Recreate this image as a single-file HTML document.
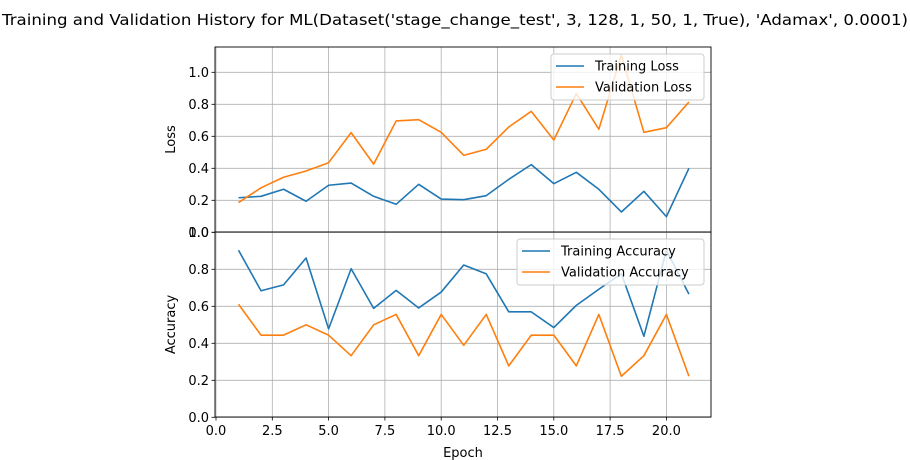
<!DOCTYPE html>
<html><head><meta charset="utf-8"><style>
body{margin:0;background:#fff;}
svg{display:block;font-family:"DejaVu Sans","Liberation Sans",sans-serif;}
</style></head><body>
<svg id="chart" width="910" height="460" viewBox="0 0 910 460" xmlns="http://www.w3.org/2000/svg">
<rect width="910" height="460" fill="#fff"/>
<text x="455" y="25" font-size="15" text-anchor="middle" textLength="906" lengthAdjust="spacingAndGlyphs">Training and Validation History for ML(Dataset('stage_change_test', 3, 128, 1, 50, 1, True), 'Adamax', 0.0001)</text>
<g id="g"></g>
</svg>
<script>
const epochs=[1,2,3,4,5,6,7,8,9,10,11,12,13,14,15,16,17,18,19,20,21];
const trainLoss=[0.216,0.225,0.269,0.194,0.294,0.308,0.225,0.175,0.3,0.208,0.204,0.229,0.331,0.423,0.304,0.375,0.269,0.127,0.256,0.098,0.4];
const valLoss=[0.186,0.278,0.344,0.383,0.435,0.623,0.426,0.696,0.704,0.625,0.481,0.519,0.658,0.756,0.577,0.867,0.644,1.108,0.625,0.654,0.814];
const trainAcc=[0.903,0.684,0.716,0.861,0.478,0.803,0.589,0.686,0.591,0.677,0.823,0.775,0.57,0.57,0.485,0.605,0.692,0.776,0.438,0.903,0.666];
const valAcc=[0.611,0.444,0.444,0.5,0.444,0.333,0.5,0.556,0.333,0.556,0.389,0.556,0.278,0.444,0.444,0.278,0.556,0.222,0.333,0.556,0.222];
const xTicks=[0,2.5,5,7.5,10,12.5,15,17.5,20];
const lossTicks=[0,0.2,0.4,0.6,0.8,1.0];
const accTicks=[0,0.2,0.4,0.6,0.8,1.0];

const NS="http://www.w3.org/2000/svg";
const g=document.getElementById('g');
const L=215,R=711;
function x(v){return 216+v*22.52;}
function mk(tag,attrs,parent){const e=document.createElementNS(NS,tag);for(const k in attrs)e.setAttribute(k,attrs[k]);(parent||g).appendChild(e);return e;}

function panel(name,top,bottom,zeroY,pxPerUnit,ticks,ylabel,series,legend){
  const y=v=>zeroY-v*pxPerUnit;
  const pg=mk('g',{});
  
  
  xTicks.forEach(t=>{const l=mk('line',{x1:x(t),x2:x(t),y1:top,y2:bottom,stroke:'#b0b0b0','stroke-width':0.8},pg);
    });
  ticks.forEach(t=>{const yy=y(t);if(yy<top-0.5||yy>bottom+0.5)return;
    const l=mk('line',{x1:L,x2:R,y1:yy,y2:yy,stroke:'#b0b0b0','stroke-width':0.8},pg);
    
    mk('line',{x1:L-3.5,x2:L,y1:yy,y2:yy,stroke:'#000','stroke-width':0.8},pg);
    const tx=mk('text',{x:L-6,y:yy+4.5,'font-size':13,'text-anchor':'end'},pg);tx.textContent=t.toFixed(1);
    });
  series.forEach(s=>{const p=mk('polyline',{points:epochs.map((e,i)=>x(e)+','+y(s.data[i])).join(' '),fill:'none',stroke:s.color,'stroke-width':1.6,'stroke-linejoin':'round'},pg);
    });
  mk('rect',{x:L,y:top,width:R-L,height:bottom-top,fill:'none',stroke:'#000','stroke-width':0.9},pg);
  const yl=mk('text',{x:0,y:0,'font-size':13,'text-anchor':'middle',transform:`translate(175,${(top+bottom)/2}) rotate(-90)`},pg);
  yl.textContent=ylabel;
  const lg=mk('g',{},pg);
  mk('rect',{x:legend.x,y:legend.y,width:R-7-legend.x,height:46,rx:3,fill:'#fff','fill-opacity':0.8,stroke:'#ccc'},lg);
  series.forEach((s,i)=>{const ly=legend.y+12+i*21;
    mk('line',{x1:legend.x+5,x2:legend.x+33,y1:ly,y2:ly,stroke:s.color,'stroke-width':1.6},lg);
    const t=mk('text',{x:legend.x+44,y:ly+4.5,'font-size':13},lg);t.textContent=s.label;
    });
}
panel('loss',47,232,232.3,160,lossTicks,'Loss',[
 {name:'training-loss-line',label:'Training Loss',color:'#1f77b4',data:trainLoss},
 {name:'validation-loss-line',label:'Validation Loss',color:'#ff7f0e',data:valLoss}],{x:551,y:54});
panel('accuracy',232,417,417.3,185,accTicks,'Accuracy',[
 {name:'training-accuracy-line',label:'Training Accuracy',color:'#1f77b4',data:trainAcc},
 {name:'validation-accuracy-line',label:'Validation Accuracy',color:'#ff7f0e',data:valAcc}],{x:517,y:239});
xTicks.forEach(t=>{mk('line',{x1:x(t),x2:x(t),y1:417,y2:420.5,stroke:'#000','stroke-width':0.8});
  const tx=mk('text',{x:x(t),y:435,'font-size':13,'text-anchor':'middle'});tx.textContent=t.toFixed(1);
  });
const xl=mk('text',{x:463,y:457,'font-size':13,'text-anchor':'middle'});xl.textContent='Epoch';


</script>
</body></html>
